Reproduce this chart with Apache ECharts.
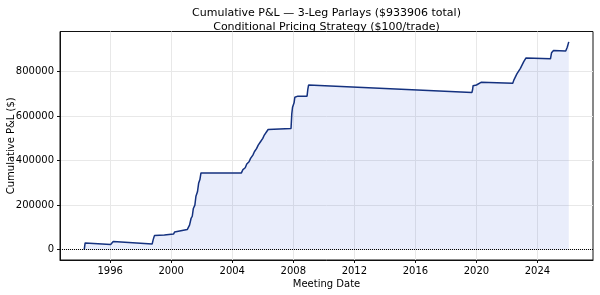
<!DOCTYPE html>
<html>
<head>
<meta charset="utf-8">
<script src="https://cdn.jsdelivr.net/npm/echarts@6/dist/echarts.min.js"></script>
<style>
html,body{margin:0;padding:0;background:#fff;}
#chart{width:600px;height:295px;}
</style>
</head>
<body>
<div id="chart"></div>
<script>
// Meeting dates as decimal years
const meetingYears = [
  1994.30, 1994.36, 1996.03, 1996.08, 1996.20, 1998.75, 1998.82, 1998.90, 1999.55, 1999.62,
  2000.15, 2000.22, 2000.35, 2001.05, 2001.13, 2001.20, 2001.30, 2001.38, 2001.45, 2001.55,
  2001.62, 2001.72, 2001.80, 2001.88, 2001.95, 2002.00, 2004.60, 2004.70, 2004.85, 2004.95,
  2005.10, 2005.20, 2005.35, 2005.45, 2005.60, 2005.70, 2005.85, 2006.00, 2006.10, 2006.25,
  2006.35, 2006.47, 2007.85, 2007.90, 2007.95, 2008.05, 2008.10, 2008.30, 2008.90, 2008.95,
  2009.00, 2019.70, 2019.75, 2019.78, 2020.00, 2020.10, 2020.30, 2022.38, 2022.45, 2022.55,
  2022.65, 2022.75, 2022.88, 2022.95, 2023.10, 2023.25, 2024.85, 2024.92, 2025.05, 2025.85,
  2025.95, 2026.05
];
// Cumulative P&L ($)
const cumulativePnl = [
  0, 30000, 23000, 28000, 36000, 25000, 45000, 63000, 66000, 70000,
  70000, 79000, 87000, 90000, 92000, 110000, 140000, 150000, 185000, 200000,
  240000, 260000, 300000, 315000, 345000, 352000, 345000, 360000, 368000, 385000,
  395000, 410000, 425000, 440000, 455000, 470000, 485000, 500000, 515000, 530000,
  540000, 548000, 545000, 610000, 640000, 660000, 685000, 690000, 690000, 720000,
  740000, 706000, 720000, 737000, 740000, 748000, 752000, 748000, 762000, 770000,
  790000, 795000, 815000, 820000, 845000, 862000, 858000, 885000, 895000, 893000,
  910000, 933906
];
const xTickYears = [1996, 2000, 2004, 2008, 2012, 2016, 2020, 2024];
const yTickValues = [0, 200000, 400000, 600000, 800000];

const totalPnl = cumulativePnl[cumulativePnl.length - 1];
const titleLine1 = 'Cumulative P&L \u2014 3-Leg Parlays ($' + totalPnl + ' total)';
const titleLine2 = 'Conditional Pricing Strategy ($100/trade)';

// matplotlib-like 5% margins
const xMinD = Math.min(...meetingYears), xMaxD = Math.max(...meetingYears);
const yMinD = Math.min(0, ...cumulativePnl), yMaxD = Math.max(...cumulativePnl);
const xPad = (xMaxD - xMinD) * 0.05, yPad = (yMaxD - yMinD) * 0.05;

const FONT = 'DejaVu Sans';
const FS = 10;
const chart = echarts.init(document.getElementById('chart'), null, {renderer: 'canvas'});
const gridL = 60, gridR = 7, gridT = 31.5, gridB = 35;

chart.setOption({
  animation: false,
  backgroundColor: '#fff',
  graphic: [{
    type: 'text',
    style: {
      x: gridL + (600 - gridL - gridR) / 2,
      y: 20,
      text: titleLine1 + '\n' + titleLine2,
      font: '11px "DejaVu Sans"',
      fill: '#000',
      textAlign: 'center',
      textVerticalAlign: 'middle',
      lineHeight: 14
    }
  }],
  grid: {left: gridL, right: gridR, top: gridT, bottom: gridB, show: true,
    borderColor: '#111', borderWidth: 1, outerBoundsMode: 'none', containLabel: false},
  xAxis: {
    type: 'value',
    min: xMinD - xPad,
    max: xMaxD + xPad,
    name: 'Meeting Date',
    nameLocation: 'middle',
    nameGap: 19,
    nameMoveOverlap: false,
    nameTextStyle: {fontFamily: FONT, fontSize: FS, color: '#000'},
    axisLine: {show: true, onZero: false, lineStyle: {color: '#111', width: 1}},
    axisTick: {show: true, length: 3, lineStyle: {color: '#111'}, customValues: xTickYears},
    axisLabel: {customValues: xTickYears, margin: 6, fontFamily: FONT, fontSize: FS, color: '#000',
      formatter: v => String(Math.round(v))},
    splitLine: {show: true, lineStyle: {color: '#e8e8e8', width: 1}}
  },
  yAxis: {
    type: 'value',
    min: yMinD - yPad,
    max: yMaxD + yPad,
    name: 'Cumulative P&L ($)',
    nameLocation: 'middle',
    nameGap: 44,
    nameMoveOverlap: false,
    nameTextStyle: {fontFamily: FONT, fontSize: FS, color: '#000'},
    axisLine: {show: true, lineStyle: {color: '#111', width: 1}},
    axisTick: {show: true, length: 3, lineStyle: {color: '#111'}, customValues: yTickValues},
    axisLabel: {customValues: yTickValues, margin: 6, fontFamily: FONT, fontSize: FS, color: '#000',
      formatter: v => String(Math.round(v))},
    splitLine: {show: true, lineStyle: {color: '#e8e8e8', width: 1}}
  },
  series: [{
    type: 'line',
    data: meetingYears.map((x, i) => [x, cumulativePnl[i]]),
    showSymbol: false,
    symbol: 'none',
    lineStyle: {color: '#14317f', width: 1.5},
    areaStyle: {color: 'rgba(65,105,225,0.17)', origin: 'auto'},
    z: 3,
    markLine: {
      silent: true,
      symbol: 'none',
      label: {show: false},
      lineStyle: {color: '#000', type: [1, 1], width: 1},
      data: [{yAxis: 0}]
    }
  }]
});
</script>
</body>
</html>
